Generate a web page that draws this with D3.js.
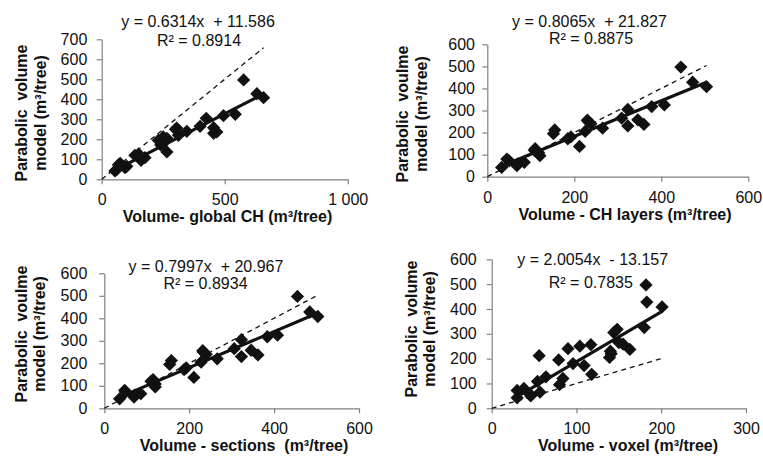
<!DOCTYPE html>
<html><head><meta charset="utf-8">
<script src="https://cdn.jsdelivr.net/npm/d3@7"></script>
<style>body{margin:0;background:#fff}svg{display:block}</style>
</head><body>
<svg id="c" width="763" height="459"></svg>
<script>
// ---- data ----
const parabolicVolume = [42, 50, 58, 65, 72, 80, 95, 108, 120, 127, 137, 172, 180, 195, 212, 205, 220, 230, 237, 240, 250, 256, 258, 265, 305, 318, 325, 408, 428, 497];
const volGlobalCH    = [54, 62, 95, 102, 68, 75, 160, 176, 135, 150, 265, 240, 250, 230, 250, 265, 312, 455, 468, 346, 300, 305, 455, 400, 425, 495, 543, 658, 631, 577];
const volCHLayers    = [33, 68, 70, 85, 50, 45, 121, 118, 108, 110, 212, 185, 192, 152, 155, 225, 265, 323, 360, 238, 232, 230, 346, 309, 323, 378, 407, 504, 472, 445];
const volSections    = [36, 70, 72, 86, 50, 48, 120, 120, 110, 115, 211, 188, 193, 154, 158, 228, 266, 323, 362, 240, 233, 232, 346, 306, 323, 384, 408, 503, 484, 455];
const volVoxel       = [30, 46, 45, 57, 30, 38, 80, 54, 84, 64, 118, 109, 96, 79, 56, 139, 141, 140, 163, 90, 104, 117, 155, 150, 144, 148, 180, 201, 183, 182];

const slopes = [0.6314, 0.8065, 0.7997, 2.0054];
const intercepts = [11.586, 21.827, 20.967, -13.157];
const eqLabels = ["y = 0.6314x  + 11.586", "y = 0.8065x  + 21.827", "y = 0.7997x  + 20.967", "y = 2.0054x  - 13.157"];
const r2Labels = ["R\u00b2 = 0.8914", "R\u00b2 = 0.8875", "R\u00b2 = 0.8934", "R\u00b2 = 0.7835"];
const xTitles = ["Volume- global CH (m\u00b3/tree)", "Volume - CH layers (m\u00b3/tree)", "Volume - sections  (m\u00b3/tree)", "Volume - voxel (m\u00b3/tree)"];
const yTitles = [["Parabolic  volume", "model (m\u00b3/tree)"], ["Parabolic  voulme", "model (m\u00b3/tree)"], ["Parabolic  voulme", "model (m\u00b3/tree)"], ["Parabolic  volume", "model (m\u00b3/tree)"]];
const xTickValues = [[0, 500, 1000], [0, 200, 400, 600], [0, 200, 400, 600], [0, 100, 200, 300]];
const yTickValues = [[0, 100, 200, 300, 400, 500, 600, 700], [0, 100, 200, 300, 400, 500, 600], [0, 100, 200, 300, 400, 500, 600], [0, 100, 200, 300, 400, 500, 600]];
const xSeries = [volGlobalCH, volCHLayers, volSections, volVoxel];

// ---- layout ----
const layout = [
  {x0: 101.7, x1: 347.7, y0: 179.3, y1: 39.3, ypad: 9.4, eq: [198, 27.3], r2: [199, 45.5], xt: [227.5, 222], yt: [27, 45.5, 113]},
  {x0: 487.3, x1: 748.3, y0: 176.7, y1: 44.3, ypad: 7.3, eq: [589.5, 26.5], r2: [591, 44], xt: [625, 219.5], yt: [408, 427, 114]},
  {x0: 104.3, x1: 359, y0: 408.3, y1: 273.3, ypad: 12, eq: [206, 272], r2: [205.5, 289], xt: [244, 451], yt: [27, 45, 334]},
  {x0: 491.7, x1: 746, y0: 408.3, y1: 259.3, ypad: 10, eq: [592.7, 265], r2: [590.8, 288.3], xt: [628, 451], yt: [417, 434.5, 329]}
];

const fmt = d3.formatLocale({decimal: ".", thousands: " ", grouping: [3], currency: ["", ""]}).format(",");
const svg = d3.select("#c");
const FONT = "'Liberation Sans', Arial, sans-serif";
const axisColor = "#808080";

layout.forEach((L, i) => {
  const xs = xSeries[i];
  const pts = xs.map((v, k) => ({x: v, y: parabolicVolume[k]}));
  const xMax = d3.max(xTickValues[i]);
  const yMax = d3.max(yTickValues[i]);
  const x = d3.scaleLinear().domain([0, xMax]).range([L.x0, L.x1]);
  const y = d3.scaleLinear().domain([0, yMax]).range([L.y0, L.y1]);
  const g = svg.append("g");

  // axes
  const ax = g.append("g").attr("transform", `translate(0,${L.y0})`)
    .call(d3.axisBottom(x).tickValues(xTickValues[i]).tickSize(5).tickSizeOuter(0).tickPadding(9.6).tickFormat(fmt));
  const ay = g.append("g").attr("transform", `translate(${L.x0},0)`)
    .call(d3.axisLeft(y).tickValues(yTickValues[i]).tickSize(5).tickSizeOuter(0).tickPadding(L.ypad).tickFormat(fmt));
  [ax, ay].forEach(a => {
    a.selectAll("path.domain").attr("stroke", axisColor).attr("stroke-width", 1.2);
    a.selectAll(".tick line").attr("stroke", axisColor).attr("stroke-width", 1.2);
    a.selectAll(".tick text").attr("fill", "#111").style("font-family", FONT).style("font-size", "16px");
  });

  // 1:1 dashed line
  const xm = d3.max(xs);
  g.append("path")
    .attr("d", d3.line().x(d => x(d)).y(d => y(d))([0, xm]))
    .attr("stroke", "#111").attr("stroke-width", 1.3).attr("stroke-dasharray", "5,4").attr("fill", "none");

  // points
  const sym = d3.symbol(d3.symbolSquare, 88);
  g.selectAll("path.pt").data(pts).join("path").attr("class", "pt")
    .attr("d", sym)
    .attr("transform", d => `translate(${x(d.x)},${y(d.y)}) rotate(45)`)
    .attr("fill", "#111");

  // trend line
  const xmn = d3.min(xs);
  g.append("path")
    .attr("d", d3.line().x(d => x(d)).y(d => y(slopes[i] * d + intercepts[i]))([xmn, xm]))
    .attr("stroke", "#111").attr("stroke-width", 3.2).attr("fill", "none");

  // equation labels
  const tstyle = s => s.style("font-family", FONT).style("font-size", "16px").attr("fill", "#111").attr("text-anchor", "middle");
  g.append("text").attr("x", L.eq[0]).attr("y", L.eq[1]).attr("xml:space", "preserve").text(eqLabels[i]).call(tstyle);
  g.append("text").attr("x", L.r2[0]).attr("y", L.r2[1]).text(r2Labels[i]).call(tstyle);

  // axis titles
  g.append("text").attr("x", L.xt[0]).attr("y", L.xt[1]).attr("xml:space", "preserve").text(xTitles[i])
    .call(tstyle).style("font-weight", "bold");
  yTitles[i].forEach((t, j) => {
    g.append("text").attr("transform", `translate(${L.yt[j]},${L.yt[2]}) rotate(-90)`)
      .attr("xml:space", "preserve").text(t).call(tstyle).style("font-weight", "bold");
  });
});
</script>
</body></html>
